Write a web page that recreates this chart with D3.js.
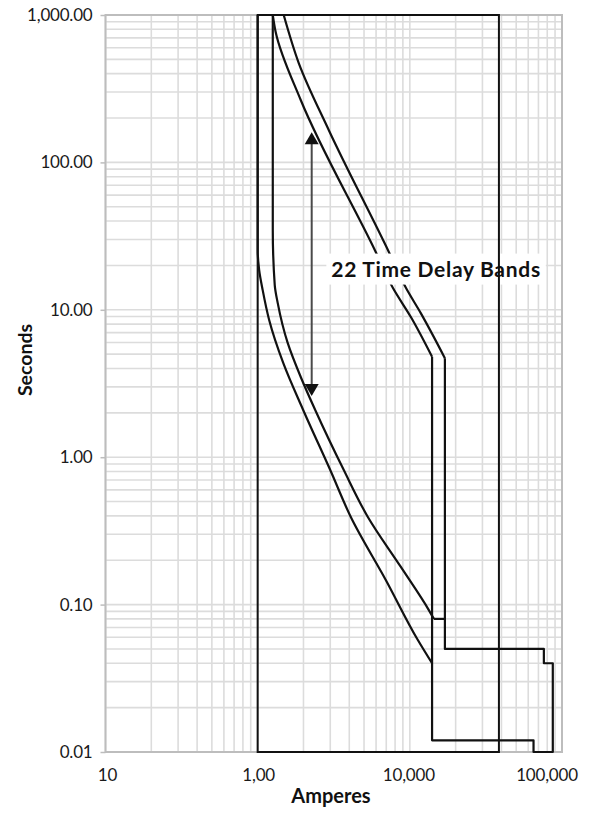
<!DOCTYPE html>
<html>
<head>
<meta charset="utf-8">
<script src="https://cdn.jsdelivr.net/npm/d3@7"></script>
<style>
  html, body { margin: 0; padding: 0; background: #ffffff; }
  svg { display: block; }
</style>
</head>
<body>
<svg id="chart" width="597" height="815"></svg>
<script>
// Axis ticks (current in amperes, time in seconds)
const xTicks = [100, 1000, 10000, 100000];
const xTickLabels = ["10", "1,00", "10,000", "100,000"];
const yTicks = [0.01, 0.1, 1, 10, 100, 1000];
const yTickLabels = ["0.01", "0.10", "1.00", "10.00", "100.00", "1,000.00"];

// Minimum delay band, lower edge
const minLowerAmps = [1000, 1000, 1023, 1079, 1190, 1472, 1991, 2999, 4093, 6950, 11290, 14000];
const minLowerSecs = [1000, 25.5, 18.6, 13.6, 8.53, 4.36, 2.09, 0.818, 0.393, 0.147, 0.0575, 0.04];

// Minimum delay band, upper edge
const minUpperAmps = [1257, 1257, 1295, 1355, 1575, 1919, 2389, 3681, 5297, 8730, 13330, 14390];
const minUpperSecs = [1000, 34.7, 14.7, 11.1, 5.96, 3.50, 2.09, 0.818, 0.393, 0.180, 0.0918, 0.08];
const minUpperTailAmps = [14390, 17000];
const minUpperTailSecs = [0.08, 0.08];

// Maximum delay band, lower edge
const maxLowerAmps = [1257, 1313, 1919, 5970, 7730, 10160, 14000];
const maxLowerSecs = [1000, 767, 265, 24.7, 14.1, 8.93, 4.8];

// Maximum delay band, upper edge
const maxUpperAmps = [1483, 1862, 2931, 7278, 9419, 11800, 17000];
const maxUpperSecs = [1000, 472, 166, 24.7, 14.1, 9.5, 4.7];

// Instantaneous region outline
const instAmps = [14000, 14000, 65000, 65000, 87000, 87000, 76000, 76000, 17000, 17000];
const instSecs = [4.8, 0.012, 0.012, 0.01, 0.01, 0.04, 0.04, 0.05, 0.05, 4.7];

// Adjustment range frame
const frameAmps = [1000, 38500];
const frameSecs = [0.01, 1000];

// Annotation arrow spanning the delay bands
const arrowAmps = 2265;
const arrowSecs = [160, 2.6];
const noteText = "22 Time Delay Bands";
const noteAmps = 3050;
const noteSecs = 16.8;

const svg = d3.select("#chart");
const W = 597, H = 815;
svg.append("rect").attr("width", W).attr("height", H).attr("fill", "#fff");

const plot = { left: 105.5, right: 562, top: 15, bottom: 752 };

const x = d3.scaleLog().domain([100, 100000]).range([plot.left, plot.right]);
const y = d3.scaleLog().domain([0.01, 1000]).range([plot.bottom, plot.top]);

// Minor grid values for every decade
function gridValues(lo, hi) {
  const out = [];
  for (let p = Math.log10(lo); p < Math.log10(hi); p++) {
    for (let k = 1; k <= 9; k++) out.push(k * Math.pow(10, p));
  }
  out.push(hi);
  return out;
}

const grid = svg.append("g").attr("class", "grid");
grid.selectAll("line.v").data(gridValues(100, 100000)).join("line")
  .attr("class", "v")
  .attr("x1", d => x(d)).attr("x2", d => x(d))
  .attr("y1", plot.top).attr("y2", plot.bottom)
  .attr("stroke", "#dcdcdc").attr("stroke-width", 1.6);
grid.selectAll("line.h").data(gridValues(0.01, 1000)).join("line")
  .attr("class", "h")
  .attr("y1", d => y(d)).attr("y2", d => y(d))
  .attr("x1", plot.left).attr("x2", plot.right)
  .attr("stroke", "#dcdcdc").attr("stroke-width", 1.6);

// Plot border
svg.append("rect")
  .attr("x", plot.left).attr("y", plot.top)
  .attr("width", plot.right - plot.left).attr("height", plot.bottom - plot.top)
  .attr("fill", "none").attr("stroke", "#bdbdbd").attr("stroke-width", 2);

const FONT = "Lato, 'Open Sans', sans-serif";

// Y axis
const yAxis = d3.axisLeft(y)
  .tickValues(yTicks)
  .tickFormat((d, i) => yTickLabels[i])
  .tickSize(5).tickPadding(8);
const gy = svg.append("g").attr("transform", `translate(${plot.left},0)`).call(yAxis);
gy.select(".domain").remove();
gy.selectAll(".tick line").attr("stroke", "#bdbdbd").attr("stroke-width", 1.5);
gy.selectAll(".tick text")
  .attr("font-family", FONT)
  .attr("font-size", 17).attr("fill", "#1a1a1a")
  .attr("letter-spacing", "-0.2");

// X axis labels
const labelShift = [2, 1, -1, -15];
svg.append("g").selectAll("text").data(xTicks).join("text")
  .attr("x", (d, i) => x(d) + labelShift[i])
  .attr("y", 781)
  .attr("text-anchor", "middle")
  .attr("font-family", FONT)
  .attr("font-size", 17).attr("fill", "#1a1a1a")
  .attr("letter-spacing", "-0.2")
  .text((d, i) => xTickLabels[i]);

// Axis titles
svg.append("text")
  .attr("x", 331).attr("y", 803)
  .attr("text-anchor", "middle")
  .attr("font-family", FONT)
  .attr("font-weight", "bold").attr("font-size", 20).attr("fill", "#111")
  .text("Amperes");
svg.append("text")
  .attr("transform", "translate(32,360) rotate(-90)")
  .attr("text-anchor", "middle")
  .attr("font-family", FONT)
  .attr("font-weight", "bold").attr("font-size", 19.5).attr("fill", "#111")
  .text("Seconds");

// Curves: time falls monotonically along each edge, so interpolate x as a function of y
const zip = (a, s) => a.map((v, i) => [v, s[i]]);
const smooth = d3.line().x(d => x(d[0])).y(d => y(d[1])).curve(d3.curveMonotoneY);
const straight = d3.line().x(d => x(d[0])).y(d => y(d[1]));

const curves = svg.append("g")
  .attr("fill", "none").attr("stroke", "#111").attr("stroke-width", 2.2)
  .attr("stroke-linejoin", "round");

curves.append("path").attr("d", smooth(zip(minLowerAmps, minLowerSecs)));
curves.append("path").attr("d", smooth(zip(minUpperAmps, minUpperSecs)));
curves.append("path").attr("d", straight(zip(minUpperTailAmps, minUpperTailSecs)));
curves.append("path").attr("d", smooth(zip(maxLowerAmps, maxLowerSecs)));
curves.append("path").attr("d", smooth(zip(maxUpperAmps, maxUpperSecs)));
curves.append("path").attr("d", straight(zip(instAmps, instSecs)));

// Arrow
const ax = x(arrowAmps);
const ay1 = y(arrowSecs[0]), ay2 = y(arrowSecs[1]);
const arrow = svg.append("g");
arrow.append("line")
  .attr("x1", ax).attr("x2", ax).attr("y1", ay1 + 6).attr("y2", ay2 - 6)
  .attr("stroke", "#4a4a4a").attr("stroke-width", 2);
arrow.append("path")
  .attr("d", `M${ax},${ay1} L${ax - 7},${ay1 + 12} L${ax + 7},${ay1 + 12} Z`)
  .attr("fill", "#111");
arrow.append("path")
  .attr("d", `M${ax},${ay2} L${ax - 7},${ay2 - 12} L${ax + 7},${ay2 - 12} Z`)
  .attr("fill", "#111");

// Annotation with white backing
const note = svg.append("g");
const bg = note.append("rect").attr("fill", "#fff");
const nt = note.append("text")
  .attr("x", x(noteAmps)).attr("y", y(noteSecs))
  .attr("font-family", FONT)
  .attr("font-weight", "bold").attr("font-size", 21).attr("fill", "#111")
  .attr("letter-spacing", "0.7")
  .text(noteText);
const bb = nt.node().getBBox();
bg.attr("x", bb.x - 5).attr("y", bb.y - 2)
  .attr("width", bb.width + 10).attr("height", bb.height + 6);

// Adjustment range frame
svg.append("rect")
  .attr("x", x(frameAmps[0])).attr("y", y(frameSecs[1]))
  .attr("width", x(frameAmps[1]) - x(frameAmps[0]))
  .attr("height", y(frameSecs[0]) - y(frameSecs[1]))
  .attr("fill", "none").attr("stroke", "#111").attr("stroke-width", 2);
</script>
</body>
</html>
